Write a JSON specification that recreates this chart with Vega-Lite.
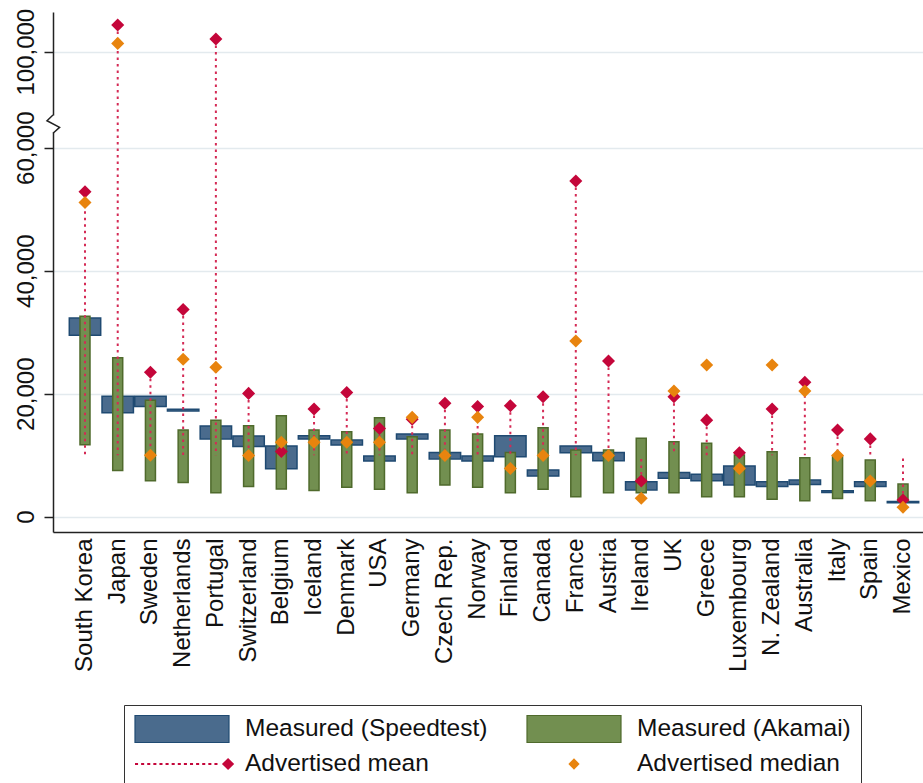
{
  "$schema": "https://vega.github.io/schema/vega-lite/v6.json",
  "width": 870,
  "height": 520,
  "autosize": {"type": "none"},
  "padding": {"left": 53, "top": 12, "right": 0, "bottom": 251},
  "background": "white",
  "config": {"view": {"stroke": null}, "font": "Liberation Sans"},
  "data": {
    "values": [
      {"country": "South Korea", "st_lo": 29500, "st_hi": 32300, "ak_lo": 11700, "ak_hi": 32600, "mean": 52850, "median": 51100},
      {"country": "Japan", "st_lo": 16900, "st_hi": 19600, "ak_lo": 7500, "ak_hi": 25850, "mean": 104350, "median": 101350},
      {"country": "Sweden", "st_lo": 17900, "st_hi": 19600, "ak_lo": 5850, "ak_hi": 18950, "mean": 23500, "median": 10000},
      {"country": "Netherlands", "st_lo": 17200, "st_hi": 17450, "ak_lo": 5550, "ak_hi": 14100, "mean": 33700, "median": 25600},
      {"country": "Portugal", "st_lo": 12650, "st_hi": 14750, "ak_lo": 3900, "ak_hi": 15700, "mean": 102050, "median": 24300},
      {"country": "Switzerland", "st_lo": 11400, "st_hi": 13100, "ak_lo": 4900, "ak_hi": 14800, "mean": 20050, "median": 9950},
      {"country": "Belgium", "st_lo": 7800, "st_hi": 11500, "ak_lo": 4500, "ak_hi": 16400, "mean": 10600, "median": 12100},
      {"country": "Iceland", "st_lo": 12650, "st_hi": 13150, "ak_lo": 4250, "ak_hi": 14100, "mean": 17500, "median": 12100},
      {"country": "Denmark", "st_lo": 11650, "st_hi": 12450, "ak_lo": 4800, "ak_hi": 13800, "mean": 20200, "median": 12100},
      {"country": "USA", "st_lo": 9050, "st_hi": 9850, "ak_lo": 4450, "ak_hi": 16100, "mean": 14350, "median": 12100},
      {"country": "Germany", "st_lo": 12650, "st_hi": 13450, "ak_lo": 3900, "ak_hi": 13000, "mean": 15850, "median": 16150},
      {"country": "Czech Rep.", "st_lo": 9400, "st_hi": 10450, "ak_lo": 5150, "ak_hi": 14100, "mean": 18450, "median": 9950},
      {"country": "Norway", "st_lo": 9050, "st_hi": 9850, "ak_lo": 4800, "ak_hi": 13450, "mean": 17900, "median": 16150},
      {"country": "Finland", "st_lo": 9750, "st_hi": 13150, "ak_lo": 3900, "ak_hi": 10450, "mean": 18050, "median": 7850},
      {"country": "Canada", "st_lo": 6600, "st_hi": 7600, "ak_lo": 4450, "ak_hi": 14450, "mean": 19500, "median": 9950},
      {"country": "France", "st_lo": 10400, "st_hi": 11500, "ak_lo": 3250, "ak_hi": 10850, "mean": 54600, "median": 28550},
      {"country": "Austria", "st_lo": 9100, "st_hi": 10450, "ak_lo": 3900, "ak_hi": 10850, "mean": 25300, "median": 9950},
      {"country": "Ireland", "st_lo": 4350, "st_hi": 5700, "ak_lo": 3900, "ak_hi": 12750, "mean": 5800, "median": 3000},
      {"country": "UK", "st_lo": 6250, "st_hi": 7200, "ak_lo": 3900, "ak_hi": 12200, "mean": 19500, "median": 20450},
      {"country": "Greece", "st_lo": 5850, "st_hi": 6900, "ak_lo": 3250, "ak_hi": 11950, "mean": 15700, "median": 24650},
      {"country": "Luxembourg", "st_lo": 5150, "st_hi": 8250, "ak_lo": 3250, "ak_hi": 10050, "mean": 10400, "median": 7850},
      {"country": "N. Zealand", "st_lo": 4900, "st_hi": 5700, "ak_lo": 2850, "ak_hi": 10550, "mean": 17500, "median": 24650},
      {"country": "Australia", "st_lo": 5250, "st_hi": 5950, "ak_lo": 2600, "ak_hi": 9600, "mean": 21850, "median": 20450},
      {"country": "Italy", "st_lo": 3950, "st_hi": 4200, "ak_lo": 2950, "ak_hi": 9750, "mean": 14100, "median": 9950},
      {"country": "Spain", "st_lo": 4900, "st_hi": 5700, "ak_lo": 2600, "ak_hi": 9200, "mean": 12650, "median": 5800},
      {"country": "Mexico", "st_lo": 2250, "st_hi": 2450, "ak_lo": 2450, "ak_hi": 5300, "mean": 2700, "median": 1550}
    ]
  },
  "encoding": {
    "x": {
      "field": "country",
      "type": "nominal",
      "sort": null,
      "scale": {"type": "band", "paddingInner": 0, "paddingOuter": 0.2946, "align": 0.811},
      "axis": {
        "title": null,
        "labelAngle": 270,
        "labelAlign": "right",
        "labelBaseline": "middle",
        "ticks": false,
        "labelPadding": 6,
        "labelFontSize": 24,
        "labelFont": "Liberation Sans",
        "labelColor": "#111111",
        "labelLimit": 300,
        "domainColor": "#222222",
        "domainWidth": 1.5,
        "grid": false
      }
    }
  },
  "layer": [
    {
      "mark": {"type": "bar", "width": {"band": 0.96}, "stroke": "#1f4a72", "strokeWidth": 1.5, "opacity": 1},
      "encoding": {
        "y": {
          "field": "st_lo",
          "type": "quantitative",
          "scale": {"domain": [-2490, 63250, 87650, 106450], "range": [520, 115.7, 115.7, 0], "nice": false, "zero": false},
          "axis": {
            "title": null,
            "values": [0, 20000, 40000, 60000, 100000],
            "format": ",d",
            "labelAngle": 270,
            "labelAlign": "center",
            "labelBaseline": "bottom",
            "labelFontSize": 24,
            "labelFont": "Liberation Sans",
            "labelColor": "#111111",
            "labelPadding": 6,
            "tickSize": 9,
            "tickColor": "#222222",
            "tickWidth": 1.5,
            "domainColor": "#222222",
            "domainWidth": 1.5,
            "grid": true,
            "gridColor": "#e3eaee",
            "gridWidth": 1.5
          }
        },
        "y2": {"field": "st_hi"},
        "color": {
          "datum": "Measured (Speedtest)",
          "type": "nominal",
          "scale": {
            "domain": ["Measured (Speedtest)", "Measured (Akamai)", "Advertised mean", "Advertised median"],
            "range": ["#4a6b8d", "#728f50", "#c4063a", "#e8840e"]
          },
          "legend": {
            "orient": "none",
            "legendX": 71,
            "legendY": 693,
            "columns": 2,
            "direction": "horizontal",
            "title": null,
            "symbolSize": 8836,
            "symbolStrokeWidth": 0,
            "symbolOpacity": 1,
            "clipHeight": 28,
            "rowPadding": 7,
            "columnPadding": 38,
            "labelOffset": 15,
            "padding": 10,
            "strokeColor": "#333333",
            "fillColor": "white",
            "labelFontSize": 24.5,
            "labelFont": "Liberation Sans",
            "labelColor": "#111111",
            "labelLimit": 400,
            "encoding": {
              "symbols": {
                "shape": {"value": {"expr": "datum.value === 'Advertised mean' ? 'M-1,-0.022h0.065v0.044h-0.065ZM-0.87,-0.022h0.065v0.044h-0.065ZM-0.74,-0.022h0.065v0.044h-0.065ZM-0.61,-0.022h0.065v0.044h-0.065ZM-0.48,-0.022h0.065v0.044h-0.065ZM-0.35,-0.022h0.065v0.044h-0.065ZM-0.22,-0.022h0.065v0.044h-0.065ZM-0.09,-0.022h0.065v0.044h-0.065ZM0.04,-0.022h0.065v0.044h-0.065ZM0.17,-0.022h0.065v0.044h-0.065ZM0.3,-0.022h0.065v0.044h-0.065ZM0.43,-0.022h0.065v0.044h-0.065ZM0.56,-0.022h0.065v0.044h-0.065ZM0.69,-0.022h0.065v0.044h-0.065ZM0.85,0L0.98,-0.13L1.11,0L0.98,0.13Z' : datum.value === 'Advertised median' ? 'M-0.12,0L0,-0.12L0.12,0L0,0.12Z' : 'M-1,-0.29H1V0.29H-1Z'"}},
                "stroke": {"value": {"expr": "datum.value === 'Measured (Speedtest)' ? '#1f4a72' : datum.value === 'Measured (Akamai)' ? '#4f6a2c' : 'transparent'"}},
                "strokeWidth": {"value": 1.2}
              }
            }
          }
        }
      }
    },
    {
      "mark": {"type": "bar", "width": 10, "stroke": "#4f6a2c", "strokeWidth": 1.5, "opacity": 1},
      "encoding": {
        "y": {"field": "ak_lo", "type": "quantitative"},
        "y2": {"field": "ak_hi"},
        "color": {"datum": "Measured (Akamai)", "type": "nominal"}
      }
    },
    {
      "mark": {"type": "rule", "color": "#d42a55", "strokeWidth": 2, "strokeDash": [2.5, 4]},
      "encoding": {
        "y": {"field": "mean", "type": "quantitative"},
        "y2": {"datum": 10000}
      }
    },
    {
      "mark": {"type": "point", "shape": "diamond", "filled": true, "size": 170, "opacity": 1},
      "encoding": {
        "y": {"field": "mean", "type": "quantitative"},
        "color": {"datum": "Advertised mean", "type": "nominal"}
      }
    },
    {
      "mark": {"type": "point", "shape": "diamond", "filled": true, "size": 170, "opacity": 1},
      "encoding": {
        "y": {"field": "median", "type": "quantitative"},
        "color": {"datum": "Advertised median", "type": "nominal"}
      }
    },
    {
      "data": {"values": [{"brk": 1}]},
      "mark": {"type": "point", "shape": "M0,-0.85L0,0.88", "size": 400, "filled": false, "stroke": "white", "strokeWidth": 4, "opacity": 1},
      "encoding": {
        "x": {"value": 0},
        "y": {"datum": 88250, "type": "quantitative"}
      }
    },
    {
      "data": {"values": [{"brk": 1}]},
      "mark": {"type": "point", "shape": "M0,-0.9L-0.6,-0.33L0.66,0.33L0,0.93", "size": 400, "filled": false, "stroke": "#222222", "strokeWidth": 1.5, "opacity": 1},
      "encoding": {
        "x": {"value": 0},
        "y": {"datum": 88250, "type": "quantitative"}
      }
    }
  ]
}
